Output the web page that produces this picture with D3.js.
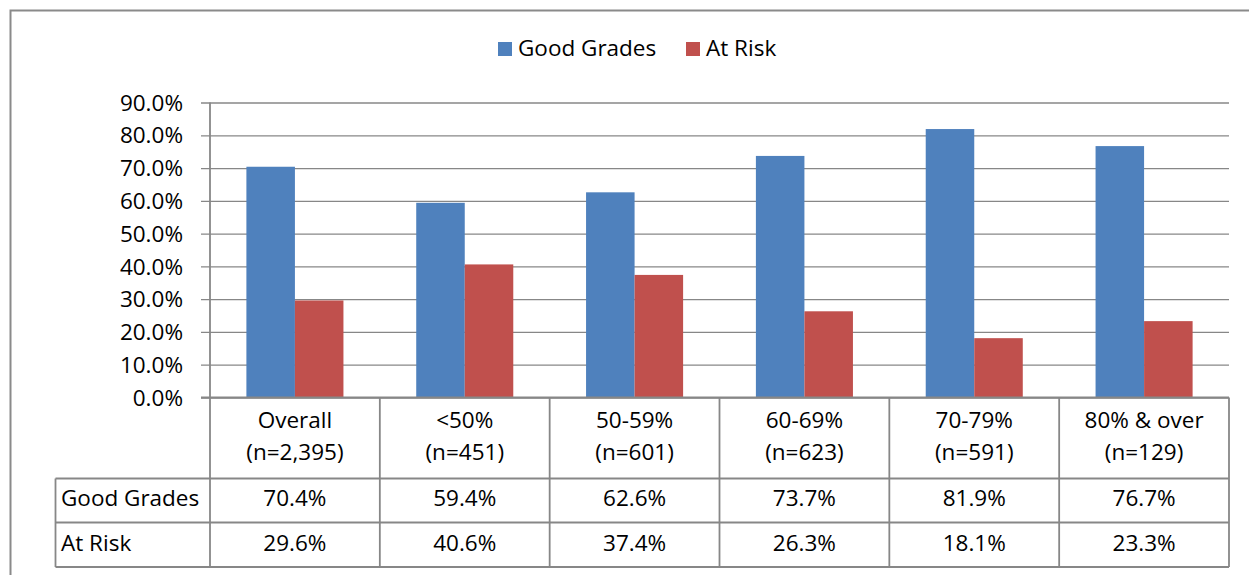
<!DOCTYPE html>
<html>
<head>
<meta charset="utf-8">
<script src="https://cdn.jsdelivr.net/npm/d3@7"></script>
<style>
  html, body { margin: 0; padding: 0; background: #fff; }
  svg { display: block; font-family: "Open Sans", "Noto Sans", sans-serif; }
</style>
</head>
<body>
<svg id="chart" width="1249" height="575"></svg>
<script>
// Category labels (first line) and sample sizes (second line)
const categories = ["Overall", "<50%", "50-59%", "60-69%", "70-79%", "80% & over"];
const sampleSizes = ["(n=2,395)", "(n=451)", "(n=601)", "(n=623)", "(n=591)", "(n=129)"];
// Series names and values (percent)
const seriesNames = ["Good Grades", "At Risk"];
const goodGrades = [70.4, 59.4, 62.6, 73.7, 81.9, 76.7];
const atRisk = [29.6, 40.6, 37.4, 26.3, 18.1, 23.3];
// Y axis ticks
const yTicks = [0, 10, 20, 30, 40, 50, 60, 70, 80, 90];

const colors = { "Good Grades": "#4F81BD", "At Risk": "#C0504D" };
const seriesValues = { "Good Grades": goodGrades, "At Risk": atRisk };
const gridColor = "#878787";
const fontSize = 22.5;

const svg = d3.select("#chart");

// Outer chart frame
svg.append("path")
  .attr("d", "M10.5,575 L10.5,10.5 L1249,10.5")
  .attr("fill", "none").attr("stroke", "#8a8a8a").attr("stroke-width", 2);

// Layout
const plotLeft = 210, plotRight = 1229;
const plotTop = 102.5, plotBottom = 397.5;
const headerBottom = 478.5, row1Bottom = 522.5, row2Bottom = 567;
const tableLeft = 55.5;

const x = d3.scaleBand().domain(categories).range([plotLeft, plotRight]).padding(0);
const xInner = d3.scaleBand().domain(seriesNames).range([0, x.bandwidth()])
  .paddingInner(0).paddingOuter(0.75);
const y = d3.scaleLinear().domain([0, 90]).range([plotBottom, plotTop]);

// Gridlines and y axis
const yAxis = d3.axisLeft(y).tickValues(yTicks)
  .tickSize(-(plotRight - plotLeft)).tickSizeOuter(0)
  .tickFormat(d => d3.format(".1f")(d) + "%").tickPadding(27);
const gAxis = svg.append("g").attr("transform", `translate(${plotLeft},0)`).call(yAxis);
gAxis.select(".domain").remove();
gAxis.selectAll(".tick line").attr("stroke", gridColor).attr("stroke-width", 1.3)
  .attr("x1", -9);
gAxis.selectAll(".tick text").attr("fill", "#000").attr("font-size", fontSize)
  .attr("font-family", "'Open Sans', sans-serif").attr("dy", "0.34em");

// Bars
const groups = svg.append("g").selectAll("g").data(categories).join("g")
  .attr("transform", d => `translate(${x(d)},0)`);
groups.selectAll("rect")
  .data((d, i) => seriesNames.map(s => ({ s, v: seriesValues[s][i] })))
  .join("rect")
  .attr("x", d => xInner(d.s))
  .attr("width", xInner.bandwidth())
  .attr("y", d => y(d.v))
  .attr("height", d => y(0) - y(d.v))
  .attr("fill", d => colors[d.s]);

// Table grid lines
const lines = svg.append("g").attr("stroke", gridColor).attr("stroke-width", 1.8).attr("fill", "none");
// vertical axis line, running down through the table
lines.append("line").attr("x1", plotLeft).attr("x2", plotLeft).attr("y1", plotTop).attr("y2", row2Bottom);
// baseline
lines.append("line").attr("x1", plotLeft - 9).attr("x2", plotRight).attr("y1", plotBottom).attr("y2", plotBottom);
// column dividers
categories.forEach(c => {
  const xr = x(c) + x.bandwidth();
  lines.append("line").attr("x1", xr).attr("x2", xr).attr("y1", plotBottom).attr("y2", row2Bottom);
});
// row lines
[headerBottom, row1Bottom, row2Bottom].forEach(yy => {
  lines.append("line").attr("x1", tableLeft).attr("x2", plotRight).attr("y1", yy).attr("y2", yy);
});
lines.append("line").attr("x1", tableLeft).attr("x2", tableLeft).attr("y1", headerBottom).attr("y2", row2Bottom);

// Header labels
const header = svg.append("g").attr("font-size", fontSize).attr("text-anchor", "middle").attr("fill", "#000");
categories.forEach((c, i) => {
  const cx = x(c) + x.bandwidth() / 2;
  header.append("text").attr("x", cx).attr("y", 420).attr("dy", "0.35em").text(c);
  header.append("text").attr("x", cx).attr("y", 452).attr("dy", "0.35em").text(sampleSizes[i]);
});

// Data table rows
const rowY = [498.5, 543];
const fmt = v => d3.format(".1f")(v) + "%";
seriesNames.forEach((s, r) => {
  svg.append("text").attr("x", 61).attr("y", rowY[r]).attr("dy", "0.35em")
    .attr("font-size", fontSize).text(s);
  seriesValues[s].forEach((v, i) => {
    svg.append("text").attr("x", x(categories[i]) + x.bandwidth() / 2).attr("y", rowY[r])
      .attr("dy", "0.35em").attr("text-anchor", "middle").attr("font-size", fontSize).text(fmt(v));
  });
});

// Legend
const legendItems = [{ s: "Good Grades", x: 498 }, { s: "At Risk", x: 686 }];
const legend = svg.append("g");
legendItems.forEach(it => {
  legend.append("rect").attr("x", it.x).attr("y", 42).attr("width", 14).attr("height", 14)
    .attr("fill", colors[it.s]);
  legend.append("text").attr("x", it.x + 20).attr("y", 48).attr("dy", "0.35em")
    .attr("font-size", fontSize).text(it.s);
});
</script>
</body>
</html>
